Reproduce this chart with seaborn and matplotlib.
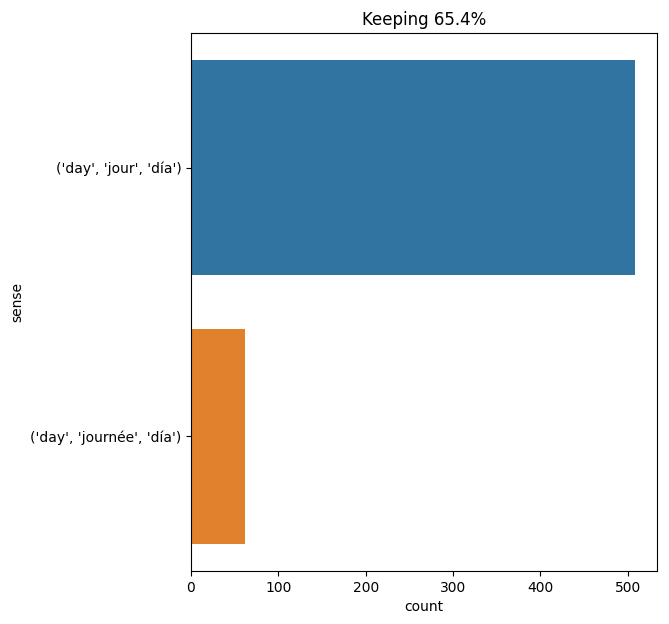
import matplotlib
matplotlib.use('Agg')
import matplotlib.pyplot as plt
import seaborn as sns
import pandas as pd

# Counts per sense
senses = ["('day', 'jour', 'día')", "('day', 'journée', 'día')"]
counts = [508, 62]
title = 'Keeping 65.4%'

df = pd.DataFrame({'sense': senses, 'count': counts})

fig, ax = plt.subplots(figsize=(6.69, 6.24), dpi=100)
sns.barplot(data=df, x='count', y='sense', hue='sense', legend=False, ax=ax)
ax.set_title(title)
ax.set_xlabel('count')
ax.set_ylabel('sense')
fig.subplots_adjust(left=0.2855, right=0.982, top=0.947, bottom=0.085)
fig.savefig('out.png', dpi=100)
